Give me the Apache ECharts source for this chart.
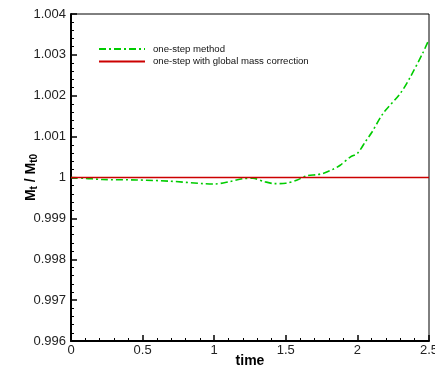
<!DOCTYPE html>
<html>
<head>
<meta charset="utf-8">
<script src="https://cdn.jsdelivr.net/npm/echarts@6/dist/echarts.min.js"></script>
<style>
  html, body { margin: 0; padding: 0; background: #fff; }
  #chart { width: 435px; height: 372px; }
</style>
</head>
<body>
<div id="chart"></div>
<script>
// 数据
let seriesNames = ["one-step method", "one-step with global mass correction"];
let timeOneStep = [0, 0.1, 0.22, 0.46, 0.69, 0.92, 1.0, 1.11, 1.2, 1.27, 1.35, 1.42, 1.5, 1.58, 1.645, 1.72, 1.76, 1.83, 1.88, 1.95, 2.0, 2.06, 2.1, 2.18, 2.3, 2.37, 2.46, 2.5];
let ratioOneStep = [1.0, 0.99998, 0.99995, 0.99994, 0.99991, 0.99985, 0.99984, 0.9999, 0.99997, 0.99998, 0.9999, 0.99985, 0.99986, 0.99994, 1.00004, 1.00007, 1.0001, 1.0002, 1.0003, 1.0005, 1.00059, 1.0009, 1.0011, 1.00157, 1.00206, 1.00246, 1.00307, 1.00338];
let timeCorrected = [0, 2.5];
let ratioCorrected = [1.0, 1.0];

let fontName = "Liberation Sans";

function pairs(xs, ys) {
  return xs.map((x, i) => [x, ys[i]]);
}

let chart = echarts.init(document.getElementById("chart"));
let option = {
  backgroundColor: "#fff",
  animation: false,
  textStyle: { fontFamily: fontName },
  grid: {
    left: 71,
    right: 6,
    top: 14,
    bottom: 31,
    containLabel: false,
    outerBoundsMode: "none",
    show: true,
    borderColor: "#000",
    borderWidth: 1,
  },
  legend: {
    orient: "vertical",
    left: 93,
    top: 39,
    itemWidth: 46,
    itemHeight: 10,
    itemGap: 2.6,
    itemStyle: { opacity: 0 },
    textStyle: { fontSize: 9.6, color: "#111", fontFamily: fontName, padding: [0, 0, 0, 3] },
    data: seriesNames,
  },
  xAxis: {
    type: "value",
    min: 0,
    max: 2.5,
    interval: 0.5,
    name: "time",
    nameLocation: "middle",
    nameGap: 13,
    nameMoveOverlap: false,
    nameTextStyle: { fontSize: 14, fontWeight: "bold", color: "#000", verticalAlign: "top" },
    axisLine: { lineStyle: { color: "#000", width: 2 } },
    axisTick: { inside: true, length: 6, lineStyle: { color: "#000", width: 1.5 } },
    minorTick: { show: true, splitNumber: 5, length: 3, lineStyle: { color: "#000", width: 1 } },
    splitLine: { show: false },
    axisLabel: {
      fontSize: 13,
      color: "#222",
      margin: 3,
      formatter: (v) => String(v),
    },
  },
  yAxis: {
    type: "value",
    min: 0.996,
    max: 1.004,
    interval: 0.001,
    name: "{b|M}{s|t}{b| / M}{s|t0}",
    nameLocation: "middle",
    nameRotate: 90,
    nameGap: 32,
    nameMoveOverlap: false,
    nameTextStyle: {
      rich: {
        b: { fontSize: 14, fontWeight: "bold", color: "#000", fontFamily: fontName },
        s: { fontSize: 10, fontWeight: "bold", color: "#000", fontFamily: fontName, padding: [6, 0, 0, 0] },
      },
    },
    axisLine: { lineStyle: { color: "#000", width: 2 } },
    axisTick: { inside: true, length: 6, lineStyle: { color: "#000", width: 1.5 } },
    minorTick: { show: true, splitNumber: 5, length: 3, lineStyle: { color: "#000", width: 1 } },
    splitLine: { show: false },
    axisLabel: {
      fontSize: 13,
      color: "#222",
      margin: 5,
      formatter: (v) => (Math.abs(v - 1) < 1e-9 ? "1" : v.toFixed(3)),
    },
  },
  series: [
    {
      name: seriesNames[0],
      type: "line",
      data: pairs(timeOneStep, ratioOneStep),
      smooth: 0.3,
      symbol: "none",
      lineStyle: { color: "#00cc00", width: 1.6, type: [7, 3, 2, 3] },
      itemStyle: { color: "#00cc00" },
      z: 2,
    },
    {
      name: seriesNames[1],
      type: "line",
      data: pairs(timeCorrected, ratioCorrected),
      symbol: "none",
      lineStyle: { color: "#cc0000", width: 1.6 },
      itemStyle: { color: "#cc0000" },
      z: 3,
    },
  ],
};
chart.setOption(option);
</script>
</body>
</html>
